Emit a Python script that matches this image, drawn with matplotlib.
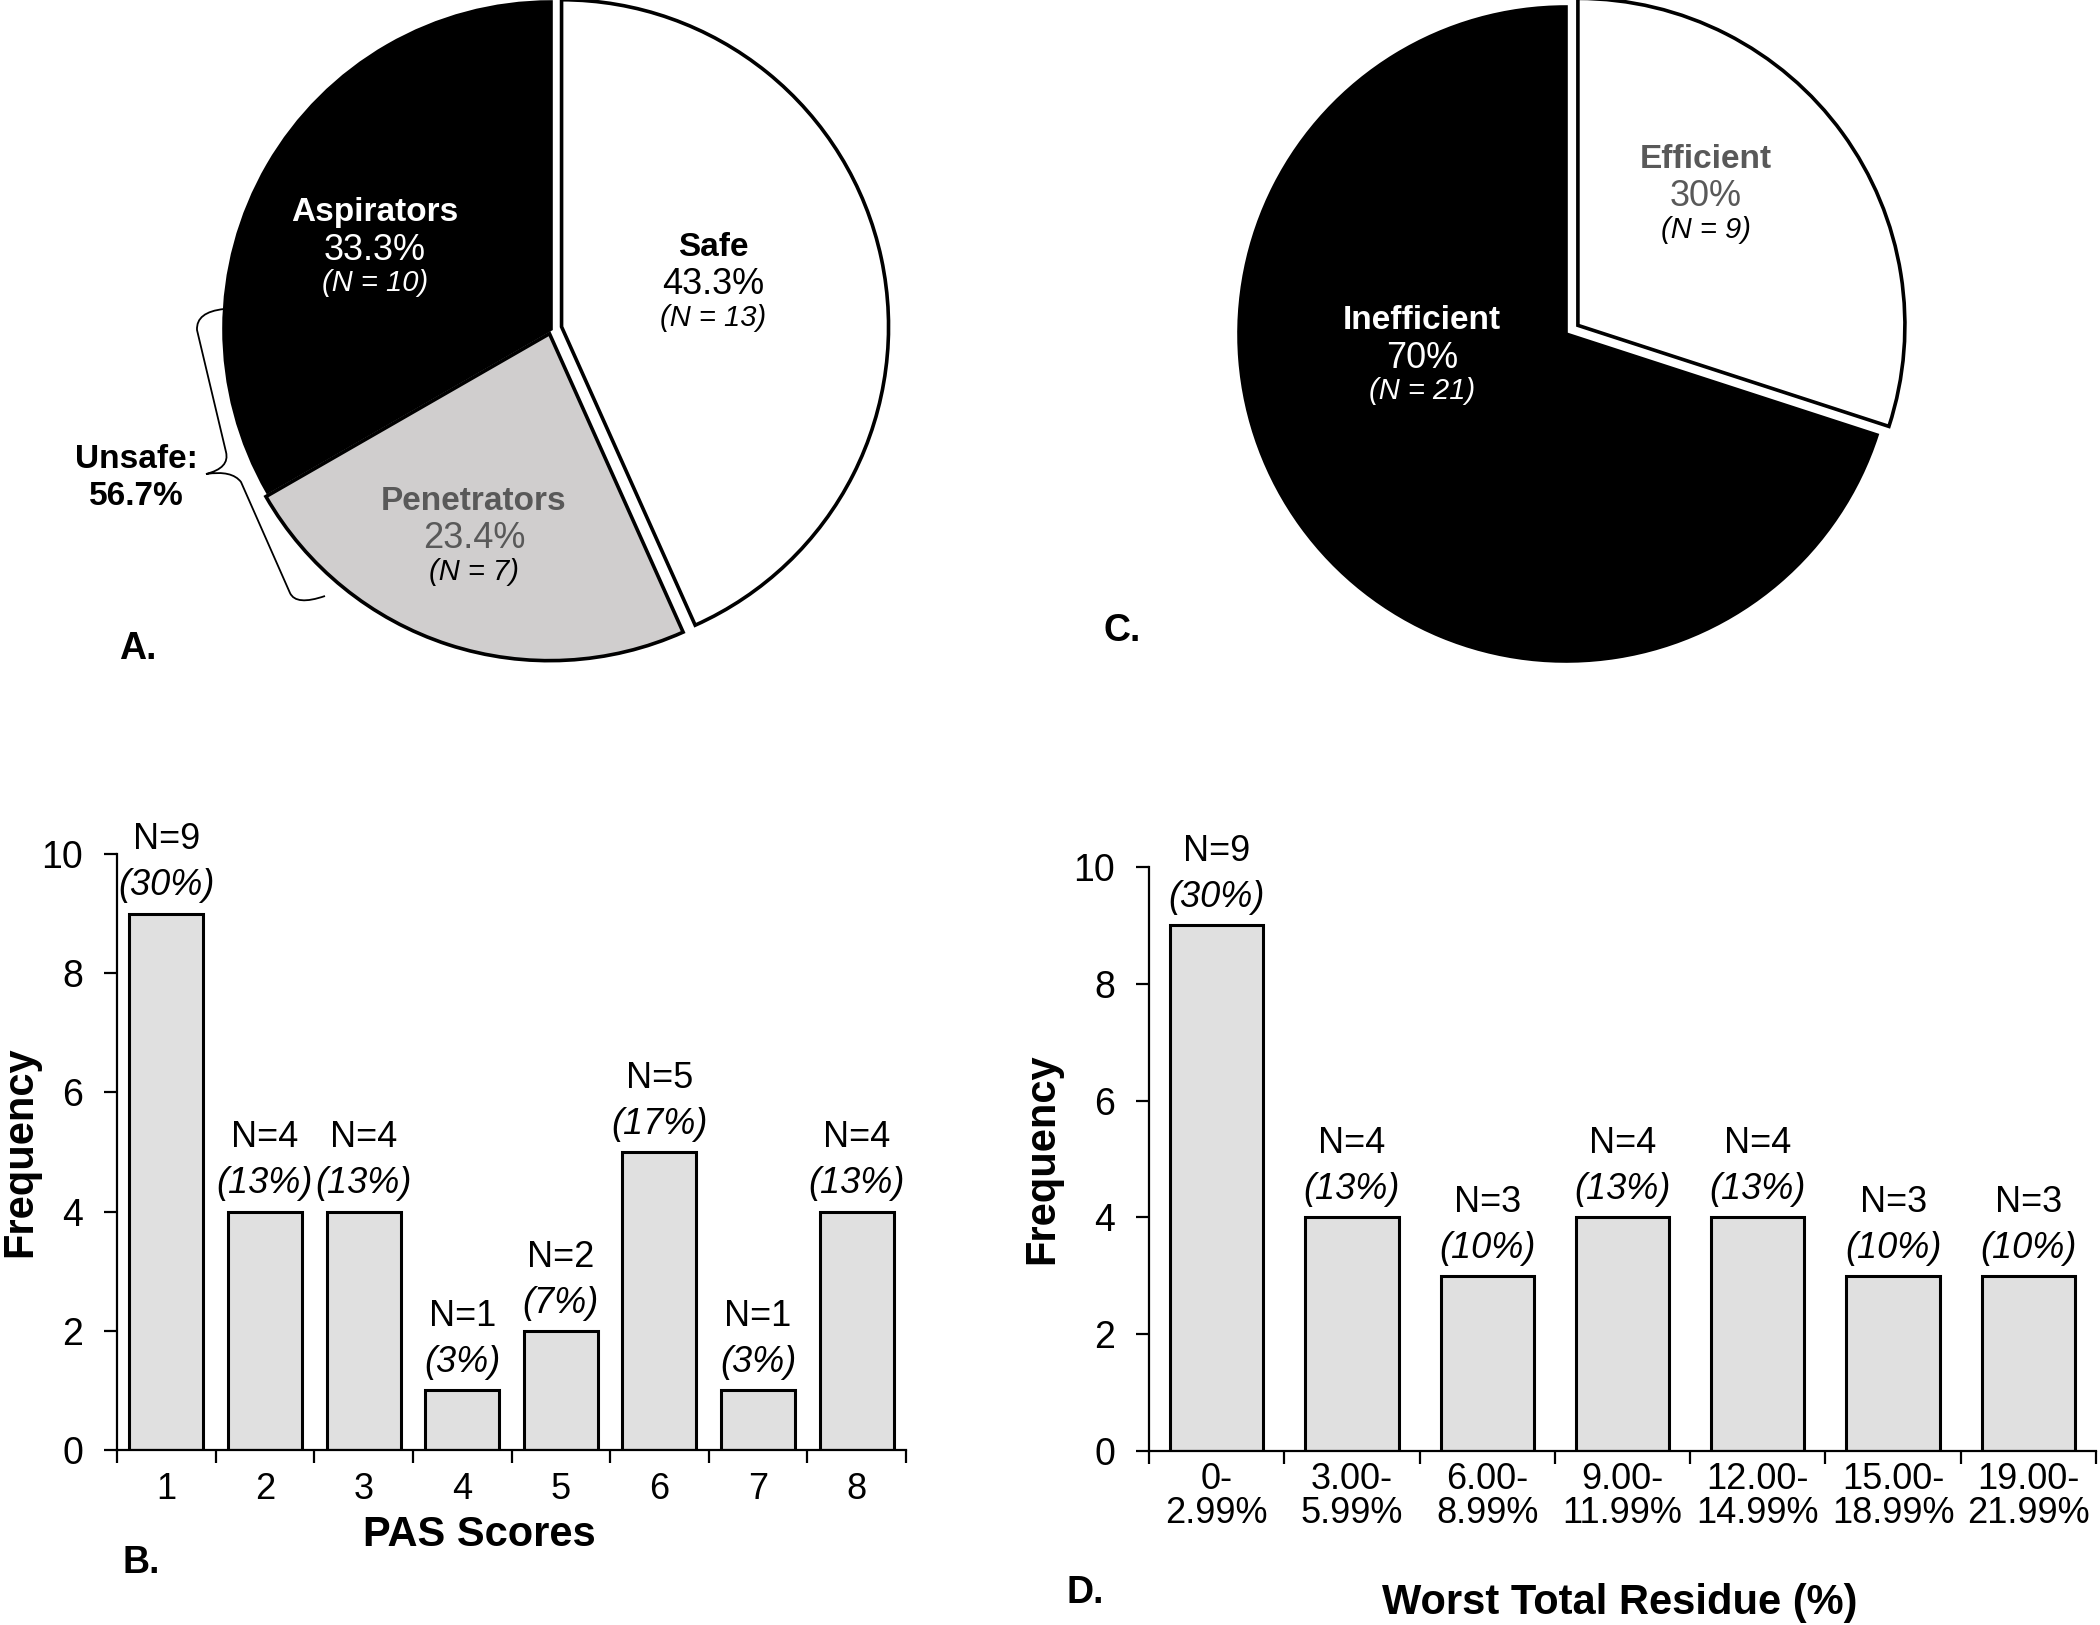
import matplotlib
matplotlib.use('Agg')
import matplotlib.pyplot as plt
from matplotlib.path import Path
from matplotlib.patches import PathPatch
import numpy as np

plt.rcParams['font.family'] = ['Liberation Sans', 'DejaVu Sans']

# ---------------- data ----------------
swallow_labels = ['Safe', 'Penetrators', 'Aspirators']
swallow_pct = [43.3, 23.4, 33.3]
swallow_n = [13, 7, 10]
swallow_colors = ['white', '#d0cece', 'black']
swallow_text_colors = ['black', '#595959', 'white']
swallow_n_colors = ['black', 'black', 'white']
unsafe_label = 'Unsafe:\n56.7%'

eff_labels = ['Efficient', 'Inefficient']
eff_pct = [30, 70]
eff_n = [9, 21]
eff_colors = ['white', 'black']
eff_text_colors = ['#595959', 'white']
eff_n_colors = ['black', 'white']

pas_scores = ['1', '2', '3', '4', '5', '6', '7', '8']
pas_freq = [9, 4, 4, 1, 2, 5, 1, 4]

residue_bins = ['0-\n2.99%', '3.00-\n5.99%', '6.00-\n8.99%', '9.00-\n11.99%',
                '12.00-\n14.99%', '15.00-\n18.99%', '19.00-\n21.99%']
residue_freq = [9, 4, 3, 4, 4, 3, 3]
total_n = 30

# ---------------- figure ----------------
W, H = 2100, 1625
fig = plt.figure(figsize=(W / 100, H / 100), dpi=100)
fig.patch.set_facecolor('white')


def px_axes(cx, cy, half):
    return fig.add_axes([(cx - half) / W, 1 - (cy + half) / H, 2 * half / W, 2 * half / H])


def pie_panel(cx, cy, R, values, colors, explode, labels, ns, tcolors, ncolors, label_px):
    half = 400
    ax = px_axes(cx, cy, half)
    ax.pie(values, colors=colors, explode=explode, startangle=90, counterclock=False,
           radius=1, wedgeprops=dict(edgecolor='black', linewidth=2.6, joinstyle='miter'))
    lim = half / R
    ax.set_xlim(-lim, lim)
    ax.set_ylim(-lim, lim)
    ax.axis('off')
    for lab, val, n, tc, nc, (px, py) in zip(labels, values, ns, tcolors, ncolors, label_px):
        x = (px - cx) / R
        y = (cy - py) / R
        ax.text(x, y + 0.115, lab, ha='center', va='center', fontsize=24,
                fontweight='bold', color=tc)
        ax.text(x, y, f'{val}%', ha='center', va='center', fontsize=26, color=tc)
        ax.text(x, y - 0.10, f'(N = {n})', ha='center', va='center', fontsize=21,
                style='italic', color=nc)
    return ax


# Panel A
axA = pie_panel(551, 329, 327, swallow_pct, swallow_colors, [0.033, 0.015, 0],
                swallow_labels, swallow_n, swallow_text_colors, swallow_n_colors,
                [(713, 285), (474, 539), (375, 250)])

# Panel C
axC = pie_panel(1566, 334, 327, eff_pct, eff_colors, [0.045, 0],
                eff_labels, eff_n, eff_text_colors, eff_n_colors,
                [(1706, 197), (1422, 358)])


# ---------------- bar panels ----------------
def bar_panel(rect, cats, freq, width, tick_fs, tick_pad, xlabel, xlab_pos, ylab_pos):
    ax = fig.add_axes(rect)
    x = np.arange(len(freq))
    ax.bar(x, freq, width=width, color='#e0e0e0', edgecolor='black', linewidth=2.2, zorder=2)
    ax.set_xlim(-0.5, len(freq) - 0.5)
    ax.set_ylim(0, 10)
    ax.set_yticks([0, 2, 4, 6, 8, 10])
    ax.set_xticks(np.arange(len(freq) + 1) - 0.5)
    ax.set_xticklabels([])
    ax.set_xticks(x, minor=True)
    ax.set_xticklabels(cats, minor=True, fontsize=tick_fs, linespacing=0.95)
    ax.tick_params(axis='x', which='major', length=9, width=1.6, direction='out')
    ax.tick_params(axis='x', which='minor', length=0, pad=tick_pad)
    ax.tick_params(axis='y', length=9.5, width=1.6, direction='out', labelsize=27, pad=15)
    for s in ['top', 'right']:
        ax.spines[s].set_visible(False)
    for s in ['left', 'bottom']:
        ax.spines[s].set_linewidth(1.6)
    ax.set_ylabel('Frequency', fontsize=30, fontweight='bold', va='center')
    ax.yaxis.set_label_coords(*ylab_pos)
    ax.set_xlabel(xlabel, fontsize=30, fontweight='bold', va='center')
    ax.xaxis.set_label_coords(*xlab_pos)
    for xi, f in zip(x, freq):
        pct = round(100 * f / total_n)
        ax.annotate(f'N={f}', (xi, f), xytext=(0, 53), textcoords='offset points',
                    ha='center', va='center', fontsize=26)
        ax.annotate(f'({pct}%)', (xi, f), xytext=(0, 20), textcoords='offset points',
                    ha='center', va='center', fontsize=26, style='italic')
    return ax


axB = bar_panel([117 / W, 1 - 1450 / H, 789 / W, 596 / H], pas_scores, pas_freq, 0.75, 26, 16,
                'PAS Scores', (0.459, -0.143), (-0.123, 0.5))
axD = bar_panel([1149 / W, 1 - 1451 / H, 947 / W, 584 / H], residue_bins, residue_freq, 0.69, 26, 8,
                'Worst Total Residue (%)', (0.497, -0.26), (-0.113, 0.5))

# ---------------- overlay: panel letters, brace, Unsafe ----------------
ov = fig.add_axes([0, 0, 1, 1], zorder=20)
ov.set_xlim(0, W)
ov.set_ylim(H, 0)
ov.axis('off')
ov.patch.set_alpha(0)

for letter, (px, py) in zip(['A.', 'C.', 'B.', 'D.'],
                            [(138, 649), (1122, 631), (141, 1563), (1085, 1593)]):
    ov.text(px, py, letter, ha='center', va='center', fontsize=27, fontweight='bold')

ov.text(136, 478, unsafe_label, ha='center', va='center', fontsize=24,
        fontweight='bold', linespacing=1.25)

verts = [(224, 309), (196, 312), (197, 330),
         (226, 452), (230, 468), (206, 474),
         (232, 470), (241, 482),
         (290, 593), (296, 606), (325, 596)]
codes = [Path.MOVETO, Path.CURVE3, Path.CURVE3,
         Path.LINETO, Path.CURVE3, Path.CURVE3,
         Path.CURVE3, Path.CURVE3,
         Path.LINETO, Path.CURVE3, Path.CURVE3]
ov.add_patch(PathPatch(Path(verts, codes), facecolor='none', edgecolor='black', linewidth=1.3))

fig.savefig('out.png', dpi=100, facecolor='white')
